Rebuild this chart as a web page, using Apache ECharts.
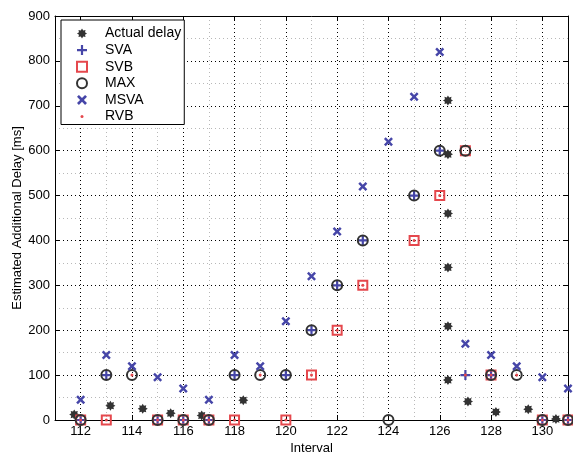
<!DOCTYPE html>
<html><head><meta charset="utf-8">
<script src="https://cdn.jsdelivr.net/npm/echarts@6/dist/echarts.min.js"></script>
<style>html,body{margin:0;padding:0;background:#fff}#c{width:573px;height:453px}</style>
</head><body><div id="c"></div>
<script>
// ---- data ----
const intervals = [112,113,114,115,116,117,118,119,120,121,122,123,124,125,126,127,128,129,130,131];
const svaValues  = [0,100,null,0,0,0,100,null,100,200,300,400,null,500,600,100,100,null,0,0];
const svbValues  = [0,0,null,0,0,0,0,null,0,100,200,300,null,400,500,600,100,null,0,0];
const maxValues  = [0,100,100,0,0,0,100,100,100,200,300,400,0,500,600,600,100,100,0,0];
const msvaValues = [45,145,120,95,70,45,145,120,220,320,420,520,620,720,820,170,145,120,95,70];
const rvbValues  = [0,0,100,0,0,0,0,100,0,100,200,300,null,400,500,100,100,100,0,0];
const actualX = [111.75,113.16,114.42,115.51,116.72,118.34,126.32,126.32,126.32,126.32,126.32,126.32,127.1,128.19,129.45,130.53];
const actualY = [12,32,25,15,10,44,712,592,460,340,209,89,41,18,24,2];
const xMajorTicks = [112,114,116,118,120,122,124,126,128,130];
const xMinorTicks = [111,113,115,117,119,121,123,125,127,129,131];
const yTicks = [0,100,200,300,400,500,600,700,800,900];

// ---- symbols ----
function starPath(n, ro, ri){
  let s = 'path://';
  for (let i=0;i<2*n;i++){
    const r = i%2===0 ? ro : ri;
    const a = Math.PI*i/n - Math.PI/2;
    s += (i===0?'M':'L') + (10 + r*Math.cos(a)).toFixed(3) + ',' + (10 + r*Math.sin(a)).toFixed(3);
  }
  return s + 'Z';
}
function crossPath(angle, t){
  const pts = [[-t,-5],[t,-5],[t,-t],[5,-t],[5,t],[t,t],[t,5],[-t,5],[-t,t],[-5,t],[-5,-t],[-t,-t]];
  const c = Math.cos(angle), s = Math.sin(angle);
  let p = 'path://';
  pts.forEach((q,i)=>{
    const x = 5 + q[0]*c - q[1]*s, y = 5 + q[0]*s + q[1]*c;
    p += (i===0?'M':'L') + x.toFixed(3) + ',' + y.toFixed(3);
  });
  return p + 'Z';
}
const asteriskSym = starPath(8, 10, 6.5);
const plusSym = crossPath(0, 1.1);
const xSym = crossPath(Math.PI/4, 1.2);
const squareSym = 'path://M0,0L10,0L10,10L0,10Z';
const dotSym = 'path://M0,0M10,10M3.5,5A1.5,1.5,0,1,0,6.5,5A1.5,1.5,0,1,0,3.5,5Z';

function pairs(xs, ys){
  const out = [];
  for (let i=0;i<xs.length;i++) if (ys[i] !== null) out.push([xs[i], ys[i]]);
  return out;
}

const FONT = 'Liberation Sans, Arial, Helvetica, sans-serif';
const BLUE = '#4646a8', RED = '#e5484d', DARK = '#333333';
const majorGrid = {show:true, lineStyle:{color:'#000', width:1, type:[1,3]}};
const minorGrid = {show:true, lineStyle:{color:'#b8b8b8', width:1, type:[1,3]}};

const chart = echarts.init(document.getElementById('c'), null, {renderer:'canvas'});
chart.setOption({
  animation:false,
  backgroundColor:'#fff',
  textStyle:{fontFamily:FONT},
  grid:{left:55, right:5, top:16, bottom:33, containLabel:false, outerBoundsMode:'none'},
  legend:{
    orient:'vertical', left:61, top:20,
    padding:[5.5,3,0,15], itemGap:0.6,
    itemWidth:30, itemHeight:10,
    backgroundColor:'#fff', borderColor:'#000', borderWidth:1,
    textStyle:{fontSize:14, color:'#000', fontFamily:FONT, lineHeight:16, padding:[0,0,0,3]},
    data:['Actual delay','SVA','SVB','MAX','MSVA','RVB']
  },
  xAxis:[
    {type:'value', min:111, max:131, position:'bottom',
     name:'Interval', nameLocation:'middle', nameGap:22, nameMoveOverlap:false,
     nameTextStyle:{fontSize:13, color:'#000', fontFamily:FONT},
     axisLine:{show:true, onZero:false, lineStyle:{color:'#000', width:1}},
     axisTick:{show:true, inside:true, length:5, customValues:xMajorTicks, lineStyle:{color:'#000'}},
     axisLabel:{show:true, customValues:xMajorTicks, fontSize:13, color:'#000', margin:5, fontFamily:FONT},
     splitLine:majorGrid},
    {type:'value', min:111, max:131, position:'top',
     axisLine:{show:true, onZero:false, lineStyle:{color:'#000', width:1}},
     axisTick:{show:true, inside:true, length:5, customValues:xMajorTicks, lineStyle:{color:'#000'}},
     axisLabel:{show:false}, splitLine:{show:false}},
    {type:'value', min:111, max:131, position:'bottom',
     axisLine:{show:false, onZero:false},
     axisTick:{show:false, customValues:xMinorTicks},
     axisLabel:{show:false, customValues:xMinorTicks},
     splitLine:minorGrid}
  ],
  yAxis:[
    {type:'value', min:0, max:900, interval:100, position:'left',
     name:'Estimated Additional Delay [ms]', nameLocation:'middle', nameGap:31, nameMoveOverlap:false,
     nameTextStyle:{fontSize:13, color:'#000', fontFamily:FONT},
     axisLine:{show:true, onZero:false, lineStyle:{color:'#000', width:1}},
     axisTick:{show:true, inside:true, length:5, lineStyle:{color:'#000'}},
     axisLabel:{show:true, fontSize:13, color:'#000', margin:5, fontFamily:FONT,
       formatter:(v)=> yTicks.indexOf(v) >= 0 ? String(v) : ''},
     splitLine:majorGrid,
     minorTick:{show:false, splitNumber:2},
     minorSplitLine:minorGrid},
    {type:'value', min:0, max:900, interval:100, position:'right',
     axisLine:{show:true, onZero:false, lineStyle:{color:'#000', width:1}},
     axisTick:{show:true, inside:true, length:5, lineStyle:{color:'#000'}},
     axisLabel:{show:false}, splitLine:{show:false}}
  ],
  series:[
    {name:'Actual delay', type:'scatter', symbol:asteriskSym, symbolSize:10,
     itemStyle:{color:DARK, opacity:1}, data:pairs(actualX, actualY), z:2},
    {name:'SVA', type:'scatter', symbol:plusSym, symbolSize:10,
     itemStyle:{color:BLUE, opacity:1}, data:pairs(intervals, svaValues), z:3},
    {name:'SVB', type:'scatter', symbol:squareSym, symbolSize:9,
     itemStyle:{color:'rgba(255,255,255,0)', borderColor:RED, borderWidth:2, opacity:1},
     data:pairs(intervals, svbValues), z:4},
    {name:'MAX', type:'scatter', symbol:'circle', symbolSize:10,
     itemStyle:{color:'rgba(255,255,255,0)', borderColor:DARK, borderWidth:2, opacity:1},
     data:pairs(intervals, maxValues), z:5},
    {name:'MSVA', type:'scatter', symbol:xSym, symbolSize:9,
     itemStyle:{color:BLUE, opacity:1}, data:pairs(intervals, msvaValues), z:6},
    {name:'RVB', type:'scatter', symbol:dotSym, symbolSize:10,
     itemStyle:{color:RED, opacity:1}, data:pairs(intervals, rvbValues), z:7}
  ]
});
</script>
</body></html>
